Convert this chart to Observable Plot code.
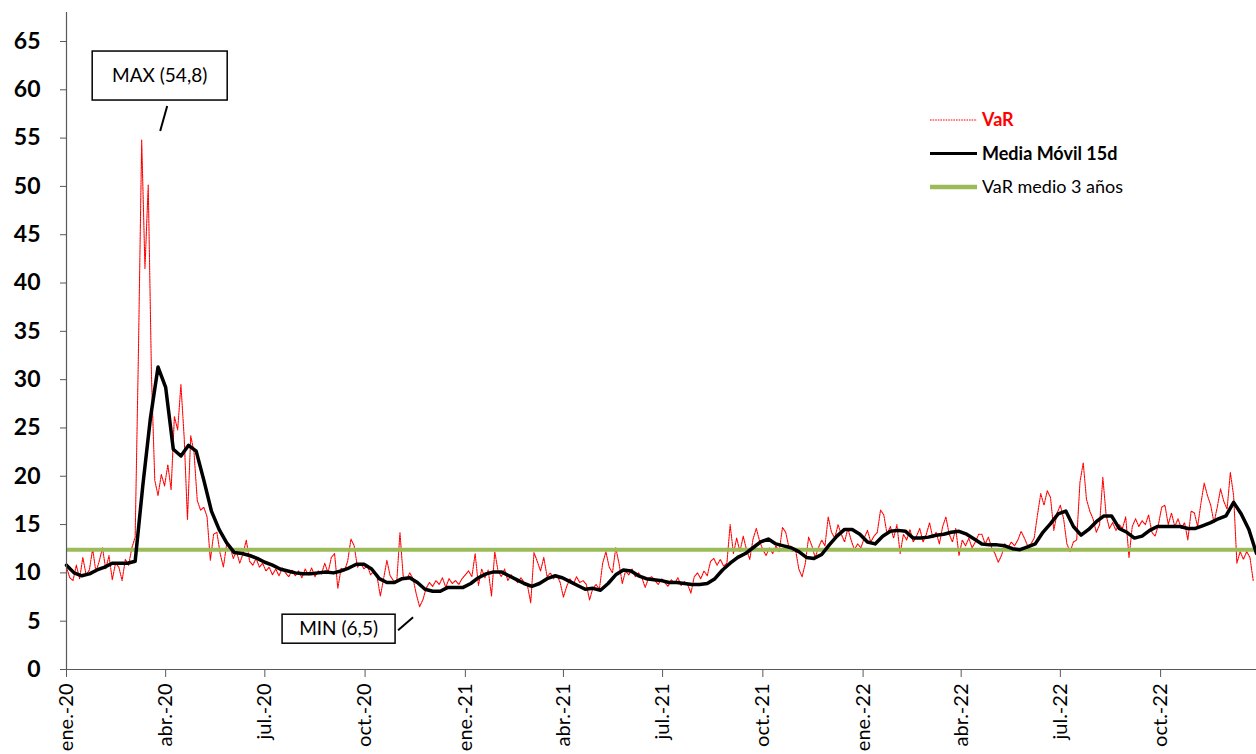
<!DOCTYPE html>
<html><head><meta charset="utf-8">
<script src="https://cdn.jsdelivr.net/npm/d3@7"></script>
<script src="https://cdn.jsdelivr.net/npm/@observablehq/plot@0.6"></script>
<style>
body{margin:0;background:#fff;}
#chart{width:1256px;height:754px;overflow:hidden;}
</style></head><body><div id="chart"></div>
<script>
// ---- Data ----
const varStart = [2020, 0, 1];      // first VaR sample (UTC y, m, d)
const varStepDays = 3;              // VaR sampled every 3 calendar days
const varValues = [
  10.6, 9.5, 9.2, 10.8, 9.4, 11.6, 9.8, 10.3, 12.5, 10.1,
  11.2, 12.6, 10.4, 11.8, 9.3, 11.0, 10.6, 9.2, 11.4, 10.8,
  12.6, 13.7, 32.8, 54.8, 41.5, 50.2, 30.3, 19.6, 18.0, 20.2,
  19.0, 21.2, 18.6, 26.2, 24.8, 29.5, 24.0, 15.5, 24.2, 22.5,
  17.5, 16.5, 16.8, 15.8, 11.3, 14.0, 14.2, 12.0, 10.6, 13.0,
  12.8, 11.5, 12.2, 11.0, 12.0, 13.4, 11.2, 10.8, 11.5, 10.6,
  11.0, 10.2, 10.6, 9.8, 10.4, 9.7, 10.5, 10.0, 9.6, 10.3,
  9.7, 10.2, 9.5, 10.4, 9.8, 10.5, 9.6, 10.2, 9.9, 11.0,
  10.0, 11.6, 12.0, 8.4, 10.5, 10.2, 11.2, 13.5, 12.8, 10.6,
  11.0, 10.4, 10.8, 9.8, 10.2, 9.6, 7.6, 9.4, 11.3, 9.7,
  9.2, 9.0, 14.2, 9.6, 9.3, 10.0, 9.4, 7.8, 6.5, 7.2,
  8.4, 9.0, 8.6, 9.2, 8.8, 9.5, 8.5, 9.4, 8.9, 9.2,
  8.8, 9.4, 9.8, 10.2, 9.6, 12.0, 8.7, 10.4, 9.5, 10.3,
  7.6, 12.2, 10.2, 9.6, 10.4, 9.2, 9.8, 9.4, 9.0, 9.5,
  9.0, 8.7, 6.9, 12.1, 11.2, 10.2, 11.6, 9.6, 10.0, 9.4,
  9.8, 9.0, 7.5, 8.6, 9.4, 8.8, 9.6, 9.0, 9.2, 8.8,
  7.2, 8.4, 8.8, 8.3, 11.0, 12.2, 10.6, 10.0, 12.6, 11.0,
  8.9, 10.2, 9.8, 10.4, 9.6, 10.0, 9.5, 8.5, 9.4, 9.6,
  9.2, 8.8, 9.4, 9.0, 8.6, 9.3, 8.9, 9.5, 8.7, 9.1,
  8.8, 7.9, 9.6, 10.0, 9.4, 10.2, 9.7, 11.2, 11.5, 10.8,
  11.4, 10.7, 11.0, 15.0, 12.0, 13.6, 12.2, 13.8, 12.4, 11.4,
  13.5, 14.6, 13.3, 12.4, 11.8, 12.6, 12.0, 12.8, 12.2, 14.7,
  14.2, 12.6, 12.2, 12.4, 10.4, 9.6, 11.0, 13.7, 12.8, 11.6,
  12.6, 13.4, 12.8, 15.8, 14.2, 13.6, 15.0, 14.0, 13.2, 14.6,
  13.4, 12.4, 13.0, 12.6, 13.6, 14.4, 13.2, 13.8, 14.2, 16.5,
  16.0, 14.0, 14.8, 13.6, 15.0, 12.0, 14.0, 13.4, 14.5, 13.2,
  13.8, 14.6, 13.2, 14.0, 15.2, 13.6, 14.2, 13.0, 14.8, 15.8,
  14.0, 13.2, 14.6, 11.8, 13.4, 12.8, 13.6, 12.6, 13.2, 14.0,
  14.0, 13.0, 13.7, 12.6, 12.0, 11.1, 11.8, 13.0, 12.6, 13.2,
  12.8, 13.4, 14.3, 13.6, 12.8, 13.0, 13.6, 16.0, 18.2, 17.0,
  18.5, 17.8, 14.4, 16.2, 17.0, 15.6, 13.0, 12.2, 13.2, 13.4,
  19.4, 21.4, 17.6, 16.4, 15.6, 14.2, 15.0, 19.9, 16.0, 14.6,
  15.2, 14.4, 15.0, 14.6, 15.8, 11.6, 14.8, 15.6, 14.8, 15.4,
  15.0, 16.0, 14.2, 13.8, 15.0, 16.8, 17.0, 15.0, 16.2, 14.8,
  15.6, 14.6, 15.2, 13.4, 16.4, 16.2, 14.8, 17.2, 19.3, 18.0,
  17.0, 15.2, 16.8, 18.7, 17.4, 16.6, 20.4, 18.0, 11.0, 12.2,
  11.4, 12.2, 11.6, 9.2
];

const maStart = [2020, 0, 1];       // first moving-average sample
const maStepDays = 7;               // read weekly
const maValues = [
  10.8, 10.0, 9.7, 9.9, 10.3, 10.6, 11.0, 11.0, 11.0, 11.2,
  19.0, 26.0, 31.3, 29.2, 22.8, 22.1, 23.2, 22.6, 19.6, 16.4,
  14.5, 13.1, 12.1, 12.0, 11.8, 11.5, 11.1, 10.8, 10.4, 10.2,
  10.0, 9.9, 9.9, 10.0, 10.1, 10.0, 10.2, 10.5, 10.9, 10.9,
  10.4, 9.4, 9.0, 9.0, 9.4, 9.5, 9.0, 8.3, 8.1, 8.1,
  8.5, 8.5, 8.5, 8.9, 9.5, 9.9, 10.1, 10.1, 9.7, 9.3,
  8.9, 8.6, 8.9, 9.4, 9.7, 9.5, 9.1, 8.7, 8.3, 8.4,
  8.2, 8.9, 9.8, 10.3, 10.2, 9.7, 9.4, 9.3, 9.2, 9.0,
  9.0, 8.9, 8.8, 8.8, 8.9, 9.4, 10.3, 11.0, 11.6, 12.0,
  12.6, 13.2, 13.5, 13.0, 12.8, 12.6, 12.2, 11.6, 11.5, 11.9,
  12.9, 13.8, 14.5, 14.5, 14.0, 13.2, 13.0, 13.8, 14.3, 14.4,
  14.3, 13.6, 13.6, 13.7, 13.9, 14.0, 14.2, 14.3, 14.0, 13.5,
  13.0, 12.9, 12.9, 12.8, 12.5, 12.4, 12.7, 13.0, 14.2, 15.1,
  16.1, 16.4, 14.8, 13.9, 14.5, 15.3, 15.9, 15.9, 14.6, 14.2,
  13.6, 13.8, 14.4, 14.8, 14.8, 14.8, 14.8, 14.6, 14.6, 14.9,
  15.2, 15.6, 15.9, 17.3, 16.1, 14.5, 12.0
];

const avgVaR3y = 12.4;
const yTicks = [0, 5, 10, 15, 20, 25, 30, 35, 40, 45, 50, 55, 60, 65];
const xTickDates = ["2020-01-01","2020-04-01","2020-07-01","2020-10-01",
                    "2021-01-01","2021-04-01","2021-07-01","2021-10-01",
                    "2022-01-01","2022-04-01","2022-07-01","2022-10-01"];
const monthAbbr = ["ene.","feb.","mar.","abr.","may.","jun.","jul.","ago.","sep.","oct.","nov.","dic."];
const legendLabels = ["VaR", "Media Móvil 15d", "VaR medio 3 años"];
const maxLabel = "MAX (54,8)";
const minLabel = "MIN (6,5)";
const xDomain = ["2020-01-01", "2022-12-28"];

// ---- Build tables ----
const dayMs = 864e5;
const utc = (a) => Date.UTC(a[0], a[1], a[2]);
const varData = varValues.map((v, i) => ({date: new Date(utc(varStart) + i * varStepDays * dayMs), value: v}));
const maData = maValues.map((v, i) => ({date: new Date(utc(maStart) + i * maStepDays * dayMs), value: v}));
const parse = (s) => new Date(s + "T00:00:00Z");

const font = "Lato, 'Open Sans', sans-serif";
const axisColor = "#595959";

const chart = Plot.plot({
  width: 1256, height: 754,
  marginLeft: 66, marginRight: 0, marginTop: 12, marginBottom: 85,
  style: {fontFamily: font, background: "#fff", color: "#000"},
  x: {type: "utc", domain: xDomain.map(parse)},
  y: {domain: [0, 68]},
  marks: [
    Plot.lineY(varData, {x: "date", y: "value", stroke: "#FF0000", strokeWidth: 1.1, strokeDasharray: "1.6,1"}),
    Plot.ruleY([avgVaR3y], {stroke: "#9BBB59", strokeWidth: 4}),
    Plot.lineY(maData, {x: "date", y: "value", stroke: "#000", strokeWidth: 3.5, strokeLinejoin: "round"}),
    Plot.ruleX([parse(xDomain[0])], {stroke: axisColor, strokeWidth: 1.2}),
    Plot.ruleY([0], {stroke: axisColor, strokeWidth: 1.2}),
    Plot.axisY({ticks: yTicks, tickSize: 6, tickPadding: 20, fontSize: 23, fontWeight: "bold", stroke: axisColor, label: null}),
    Plot.axisX({ticks: xTickDates.map(parse), tickSize: 8, tickPadding: 6, tickRotate: -90, fontSize: 20, stroke: axisColor, label: null,
      tickFormat: (d) => monthAbbr[d.getUTCMonth()] + "-" + String(d.getUTCFullYear()).slice(2)})
  ]
});
document.getElementById("chart").appendChild(chart);

// ---- Legend and annotations ----
const svg = d3.select(chart);
const sx = chart.scale("x"), sy = chart.scale("y");
const X = sx.apply ? (d) => sx.apply(d) : d3.scaleUtc(sx.domain, sx.range);
const Y = sy.apply ? (v) => sy.apply(v) : d3.scaleLinear(sy.domain, sy.range);

const leg = svg.append("g").attr("font-family", font).attr("font-size", 18).attr("text-anchor", "start");
const legendStyles = [
  {stroke: "#FF0000", width: 1, dash: "1.6,1", fill: "#FF0000", weight: "bold"},
  {stroke: "#000", width: 3, dash: null, fill: "#000", weight: "bold"},
  {stroke: "#9BBB59", width: 4.5, dash: null, fill: "#000", weight: "normal"}
];
legendLabels.forEach((lab, i) => {
  const cy = 120 + i * 33.5, st = legendStyles[i];
  leg.append("line").attr("x1", 930).attr("x2", 977).attr("y1", cy).attr("y2", cy)
    .attr("stroke", st.stroke).attr("stroke-width", st.width).attr("stroke-dasharray", st.dash);
  leg.append("text").attr("x", 982).attr("y", cy).attr("dy", "0.35em").attr("text-anchor", "start")
    .attr("fill", st.fill).attr("font-weight", st.weight).text(lab);
});

function annotate(idx, label, box, link) {
  const px = X(varData[idx].date), py = Y(varData[idx].value);
  const g = svg.append("g").attr("font-family", font);
  g.append("rect").attr("x", px + box[0]).attr("y", py + box[1]).attr("width", box[2]).attr("height", box[3])
    .attr("fill", "#fff").attr("stroke", "#000").attr("stroke-width", 1.5);
  g.append("text").attr("x", px + box[0] + box[2] / 2).attr("y", py + box[1] + box[3] / 2).attr("dy", "0.35em")
    .attr("text-anchor", "middle").attr("font-size", 19).attr("fill", "#000").text(label);
  g.append("line").attr("x1", px + link[0]).attr("y1", py + link[1]).attr("x2", px + link[2]).attr("y2", py + link[3])
    .attr("stroke", "#000").attr("stroke-width", 2);
}
const iMax = d3.maxIndex(varValues), iMin = d3.minIndex(varValues);
annotate(iMax, maxLabel, [-49, -88.5, 135, 49], [26, -33.5, 19, -8.5]);
annotate(iMin, minLabel, [-137, 8, 113, 29], [-21, 24, -6, 11]);
</script></body></html>
